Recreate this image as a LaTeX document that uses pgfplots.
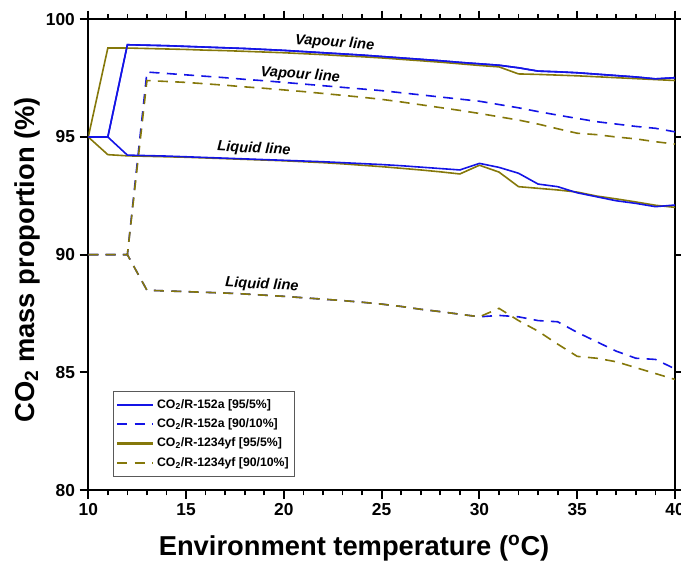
\documentclass[border=0pt]{standalone}
\usepackage{fontspec}
\setmainfont{Liberation Sans}
\usepackage{pgfplots}
\pgfplotsset{compat=1.18}
\usetikzlibrary{calc}
\definecolor{cBlue}{HTML}{1414E6}
\definecolor{cOlive}{HTML}{85780A}

\begin{document}
\begin{tikzpicture}
\begin{axis}[
  scale only axis, width=440pt, height=353pt,
  xmin=10, xmax=40, ymin=80, ymax=100,
  xtick={10,15,...,40}, minor x tick num=4,
  ytick={80,85,...,100},
  tick pos=both, tick align=outside,
  major tick length=6.5pt, minor tick length=4pt,
  axis line style={line width=1.5pt},
  major tick style={line width=1.5pt, black},
  minor tick style={line width=1.3pt, black},
  /pgf/number format/assume math mode=true,
  ticklabel style={font=\fontsize{13}{14}\selectfont\bfseries},
  xlabel={Environment temperature (\textsuperscript{o}C)},
  ylabel={CO\textsubscript{2} mass proportion (\%)},
  label style={font=\fontsize{20.5}{22}\selectfont\bfseries},
  xlabel style={at={(axis description cs:0.453,-0.123)}, anchor=center},
  ylabel style={at={(axis description cs:-0.1045,0.489)}, anchor=center},
  legend image code/.code={\draw[#1, line width=1.6pt] (0pt,0pt) -- (27pt,0pt);},
  legend style={at={(axis description cs:0.0426,0.0283)}, anchor=south west,
    draw=gray!70!black, line width=0.6pt, font=\fontsize{9.2}{10}\selectfont\bfseries,
    row sep=2.4pt, inner xsep=2pt, inner ysep=4pt},
  legend cell align=left,
]
\coordinate (sw) at (rel axis cs:0,0);
\coordinate (ne) at (rel axis cs:1,1);

% vapour lines (legend entries)
\addplot[color=cBlue, solid, line width=1.2pt] coordinates {(10,95)(11,95)(12,98.92)(13,98.90)(14,98.88)(15,98.85)(16,98.82)(17,98.79)(18,98.76)(19,98.72)(20,98.68)
  (21,98.63)(22,98.58)(23,98.53)(24,98.48)(25,98.42)(26,98.36)(27,98.30)(28,98.24)(29,98.17)(30,98.11)
  (31,98.05)(32,97.94)(33,97.80)(34,97.77)(35,97.73)(36,97.67)(37,97.61)(38,97.55)(39,97.47)(40,97.52)};
\addplot[color=cBlue, line width=1.2pt, dash pattern=on 7.5pt off 5.5pt] coordinates {(10,90)(12,90)(13,97.76)(14,97.70)(15,97.64)(16,97.58)(17,97.52)(18,97.45)(19,97.39)(20,97.32)
  (21,97.25)(22,97.18)(23,97.11)(24,97.04)(25,96.97)(26,96.88)(27,96.79)(28,96.70)(29,96.61)(30,96.52)
  (31,96.38)(32,96.24)(33,96.08)(34,95.93)(35,95.79)(36,95.65)(37,95.55)(38,95.45)(39,95.37)(40,95.22)};
\addplot[color=cOlive, solid, line width=1.2pt] coordinates {(10,95)(11,98.78)(12,98.78)(13,98.76)(14,98.74)(15,98.72)(16,98.69)(17,98.67)(18,98.64)(19,98.61)(20,98.58)
  (21,98.54)(22,98.50)(23,98.45)(24,98.41)(25,98.36)(26,98.30)(27,98.24)(28,98.18)(29,98.11)(30,98.04)
  (31,97.98)(32,97.68)(33,97.66)(34,97.63)(35,97.60)(36,97.56)(37,97.52)(38,97.48)(39,97.44)(40,97.40)};
\addplot[color=cOlive, line width=1.2pt, dash pattern=on 7.5pt off 5.5pt] coordinates {(10,90)(12,90)(13,97.40)(14,97.36)(15,97.32)(16,97.26)(17,97.20)(18,97.13)(19,97.07)(20,97.00)
  (21,96.93)(22,96.85)(23,96.77)(24,96.69)(25,96.60)(26,96.49)(27,96.37)(28,96.25)(29,96.13)(30,96.00)
  (31,95.86)(32,95.72)(33,95.55)(34,95.35)(35,95.16)(36,95.10)(37,95.00)(38,94.92)(39,94.80)(40,94.70)};
\legend{CO\textsubscript{2}/R-152a [95/5\%],CO\textsubscript{2}/R-152a [90/10\%],CO\textsubscript{2}/R-1234yf [95/5\%],CO\textsubscript{2}/R-1234yf [90/10\%]}

% liquid lines
\addplot[forget plot, color=cOlive, solid, line width=1.2pt] coordinates {(10,95)(11,94.25)(12,94.20)(13,94.18)(14,94.16)(15,94.14)(16,94.11)(17,94.08)(18,94.05)(19,94.02)(20,93.99)
  (21,93.95)(22,93.91)(23,93.86)(24,93.80)(25,93.74)(26,93.67)(27,93.60)(28,93.52)(29,93.43)(30,93.80)
  (31,93.51)(32,92.89)(33,92.82)(34,92.75)(35,92.66)(36,92.49)(37,92.37)(38,92.24)(39,92.10)(40,92.01)};
\addplot[forget plot, color=cBlue, solid, line width=1.2pt] coordinates {(10,95)(11,95)(12,94.23)(13,94.21)(14,94.19)(15,94.16)(16,94.13)(17,94.10)(18,94.07)(19,94.04)(20,94.01)
  (21,93.98)(22,93.95)(23,93.91)(24,93.87)(25,93.83)(26,93.78)(27,93.72)(28,93.66)(29,93.60)(30,93.88)
  (31,93.71)(32,93.46)(33,93.00)(34,92.89)(35,92.63)(36,92.46)(37,92.29)(38,92.18)(39,92.04)(40,92.11)};
% blue vapour line again, drawn above the olive one
\addplot[forget plot, color=cBlue, solid, line width=1.2pt] coordinates {(11,95)(12,98.92)(13,98.90)(14,98.88)(15,98.85)(16,98.82)(17,98.79)(18,98.76)(19,98.72)(20,98.68)
  (21,98.63)(22,98.58)(23,98.53)(24,98.48)(25,98.42)(26,98.36)(27,98.30)(28,98.24)(29,98.17)(30,98.11)
  (31,98.05)(32,97.94)(33,97.80)(34,97.77)(35,97.73)(36,97.67)(37,97.61)(38,97.55)(39,97.47)(40,97.52)};
\addplot[forget plot, color=cBlue, line width=1.2pt, dash pattern=on 7.5pt off 5.5pt] coordinates {(10,90)(12,90)(13,88.49)(14,88.46)(15,88.43)(16,88.40)(17,88.37)(18,88.33)(19,88.28)(20,88.23)
  (21,88.17)(22,88.11)(23,88.05)(24,87.98)(25,87.90)(26,87.80)(27,87.68)(28,87.58)(29,87.47)(30,87.36)
  (31,87.42)(32,87.36)(33,87.20)(34,87.15)(35,86.70)(36,86.30)(37,85.90)(38,85.60)(39,85.55)(40,85.15)};
\addplot[forget plot, color=cOlive, line width=1.2pt, dash pattern=on 7.5pt off 5.5pt] coordinates {(10,90)(12,90)(13,88.49)(14,88.46)(15,88.43)(16,88.40)(17,88.37)(18,88.33)(19,88.28)(20,88.23)
  (21,88.17)(22,88.11)(23,88.05)(24,87.98)(25,87.90)(26,87.80)(27,87.68)(28,87.58)(29,87.47)(30,87.36)
  (31,87.72)(32,87.20)(33,86.75)(34,86.20)(35,85.68)(36,85.60)(37,85.45)(38,85.20)(39,84.95)(40,84.70)};

\node[font=\fontsize{11}{12}\selectfont\bfseries\itshape, rotate=-4] at (axis cs:22.6,98.99) {Vapour line};
\node[font=\fontsize{11}{12}\selectfont\bfseries\itshape, rotate=-4] at (axis cs:20.84,97.63) {Vapour line};
\node[font=\fontsize{11}{12}\selectfont\bfseries\itshape, rotate=-3] at (axis cs:18.47,94.49) {Liquid line};
\node[font=\fontsize{11}{12}\selectfont\bfseries\itshape, rotate=-3] at (axis cs:18.88,88.71) {Liquid line};
\end{axis}
\pgfresetboundingbox
\path ($(sw)+(-66.2pt,-57pt)$) rectangle ($(ne)+(4.5pt,14.5pt)$);
\end{tikzpicture}
\end{document}
